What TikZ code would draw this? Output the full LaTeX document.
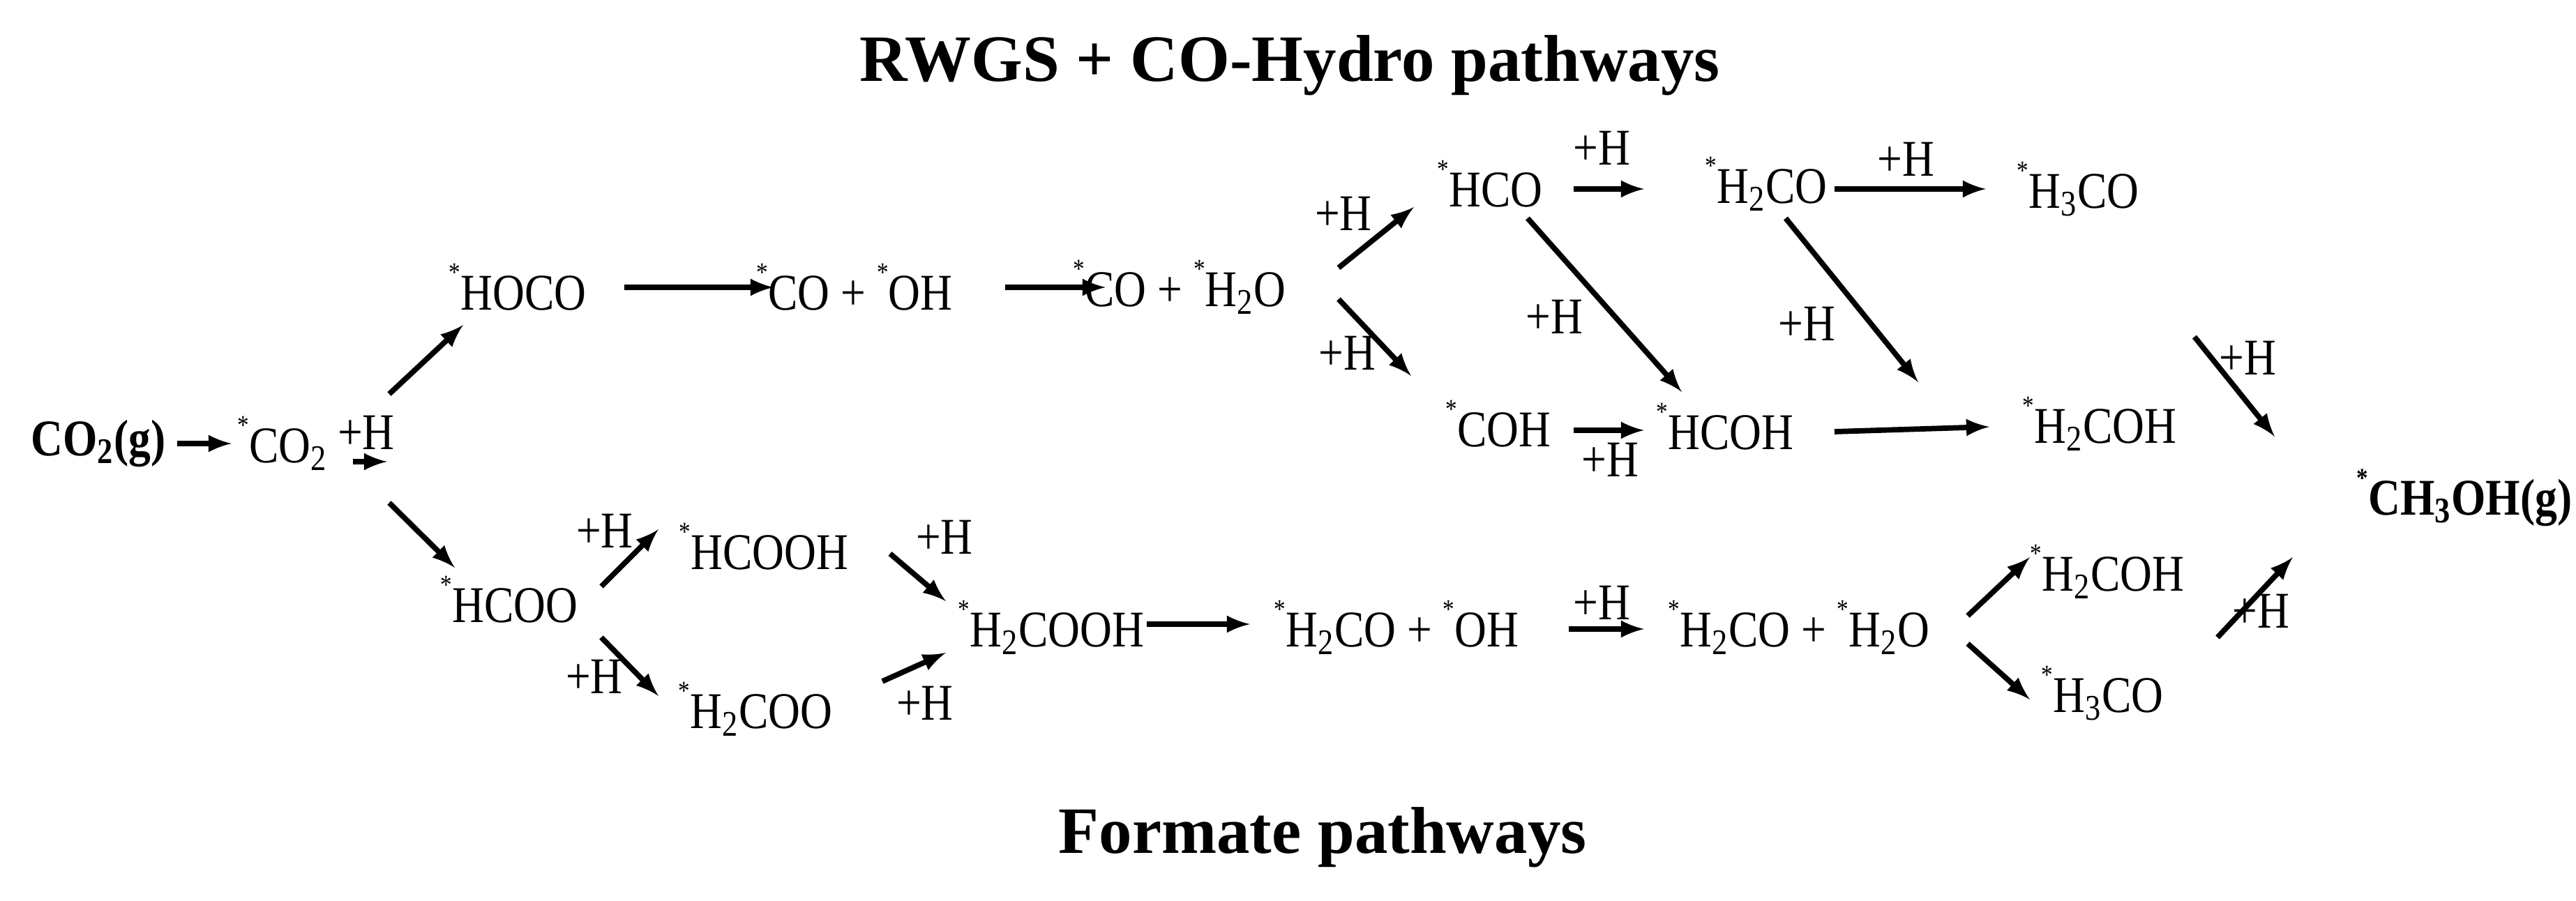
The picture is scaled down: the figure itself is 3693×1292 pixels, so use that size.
\documentclass[tikz,border=0pt]{standalone}
\usepackage{fontspec}
\setmainfont{Liberation Serif}
\newfontfamily\bodyf[FakeStretch=0.86]{Liberation Serif}
\begin{document}
\begin{tikzpicture}[x=0.01cm,y=-0.01cm,
  sp/.style={inner sep=0pt,font=\bodyf\fontsize{21}{24}\selectfont},
  bsp/.style={inner sep=0pt,font=\bodyf\fontsize{21}{24}\selectfont\bfseries},
  ttl/.style={inner sep=0pt,font=\fontsize{27}{30}\selectfont\bfseries},
  hl/.style={inner sep=0pt,font=\bodyf\fontsize{21}{24}\selectfont},
  ar/.style={-latex,line width=2.2pt}]
\useasboundingbox (0,0) rectangle (3693,1292);
\newcommand{\st}{\raisebox{0.55em}{\fontsize{11}{12}\selectfont *}}
\node[ttl] (t1) at (1849,94) {RWGS + CO-Hydro pathways};
\node[ttl] (t2) at (1896,1201) {Formate pathways};
\node[bsp] (co2g) at (141,636) {CO\textsubscript{2}(g)};
\node[sp] (co2) at (405,636) {\st CO\textsubscript{2}};
\node[hl] (h0) at (525,620) {+H};
\node[sp] (hoco) at (742,412) {\st HOCO};
\node[sp] (cooh) at (1225,412) {\st CO + \st OH};
\node[sp] (coh2o) at (1691,412) {\st CO + \st H\textsubscript{2}O};
\node[sp] (hco) at (2136,264) {\st HCO};
\node[sp] (h2co) at (2532,264) {\st H\textsubscript{2}CO};
\node[sp] (h3co) at (2979,271) {\st H\textsubscript{3}CO};
\node[sp] (coh) at (2148,608) {\st COH};
\node[sp] (hcoh) at (2473,612) {\st HCOH};
\node[sp] (h2coh) at (3010,608) {\st H\textsubscript{2}COH};
\node[bsp,anchor=east] (ch3oh) at (3688,714) {\st CH\textsubscript{3}OH(g)};
\node[sp] (hcoo) at (730,860) {\st HCOO};
\node[sp] (hcooh) at (1095,784) {\st HCOOH};
\node[sp] (h2cooh) at (1507,900) {\st H\textsubscript{2}COOH};
\node[sp] (h2coo) at (1083,1017) {\st H\textsubscript{2}COO};
\node[sp] (h2cooh2) at (2002,900) {\st H\textsubscript{2}CO + \st OH};
\node[sp] (h2coh2o) at (2579,900) {\st H\textsubscript{2}CO + \st H\textsubscript{2}O};
\node[sp] (h2cohb) at (3021,820) {\st H\textsubscript{2}COH};
\node[sp] (h3cob) at (3014,994) {\st H\textsubscript{3}CO};
% +H labels
\node[hl] (l1) at (1926,306) {+H};
\node[hl] (l2) at (1931,506) {+H};
\node[hl] (l3) at (2296,212) {+H};
\node[hl] (l4) at (2732,228) {+H};
\node[hl] (l5) at (2228,454) {+H};
\node[hl] (l6) at (2590,464) {+H};
\node[hl] (l7) at (2308,659) {+H};
\node[hl] (l8) at (3222,513) {+H};
\node[hl] (l9) at (3241,876) {+H};
\node[hl] (l10) at (867,761) {+H};
\node[hl] (l11) at (852,970) {+H};
\node[hl] (l12) at (1354,770) {+H};
\node[hl] (l13) at (1326,1008) {+H};
\node[hl] (l14) at (2296,864) {+H};
% connector end points
\coordinate (a1) at (254,636); \coordinate (b1) at (332,636);
\coordinate (a2) at (506,662); \coordinate (b2) at (555,662);
\coordinate (a3) at (558,565); \coordinate (b3) at (664,466);
\coordinate (a4) at (558,721); \coordinate (b4) at (652,814);
\coordinate (a5) at (895,412); \coordinate (b5) at (1109,412);
\coordinate (a6) at (1441,412); \coordinate (b6) at (1585,412);
\coordinate (a7) at (1919,384); \coordinate (b7) at (2027,297);
\coordinate (a8) at (1919,429); \coordinate (b8) at (2023,539);
\coordinate (a9) at (2256,271); \coordinate (b9) at (2357,271);
\coordinate (a10) at (2630,271); \coordinate (b10) at (2847,271);
\coordinate (a11) at (2190,313); \coordinate (b11) at (2411,562);
\coordinate (a12) at (2560,313); \coordinate (b12) at (2750,548);
\coordinate (a13) at (2256,617); \coordinate (b13) at (2357,617);
\coordinate (a14) at (2630,619); \coordinate (b14) at (2852,612);
\coordinate (a15) at (3146,483); \coordinate (b15) at (3261,626);
\coordinate (a16) at (3179,914); \coordinate (b16) at (3287,799);
\coordinate (a17) at (862,841); \coordinate (b17) at (944,759);
\coordinate (a18) at (862,914); \coordinate (b18) at (944,998);
\coordinate (a19) at (1276,794); \coordinate (b19) at (1356,862);
\coordinate (a20) at (1265,977); \coordinate (b20) at (1356,936);
\coordinate (a21) at (1644,895); \coordinate (b21) at (1792,895);
\coordinate (a22) at (2249,902); \coordinate (b22) at (2357,902);
\coordinate (a23) at (2821,883); \coordinate (b23) at (2910,799);
\coordinate (a24) at (2821,923); \coordinate (b24) at (2910,1003);
\foreach \i in {1,...,24} {\draw[ar] (a\i) -- (b\i);}
\end{tikzpicture}
\end{document}
